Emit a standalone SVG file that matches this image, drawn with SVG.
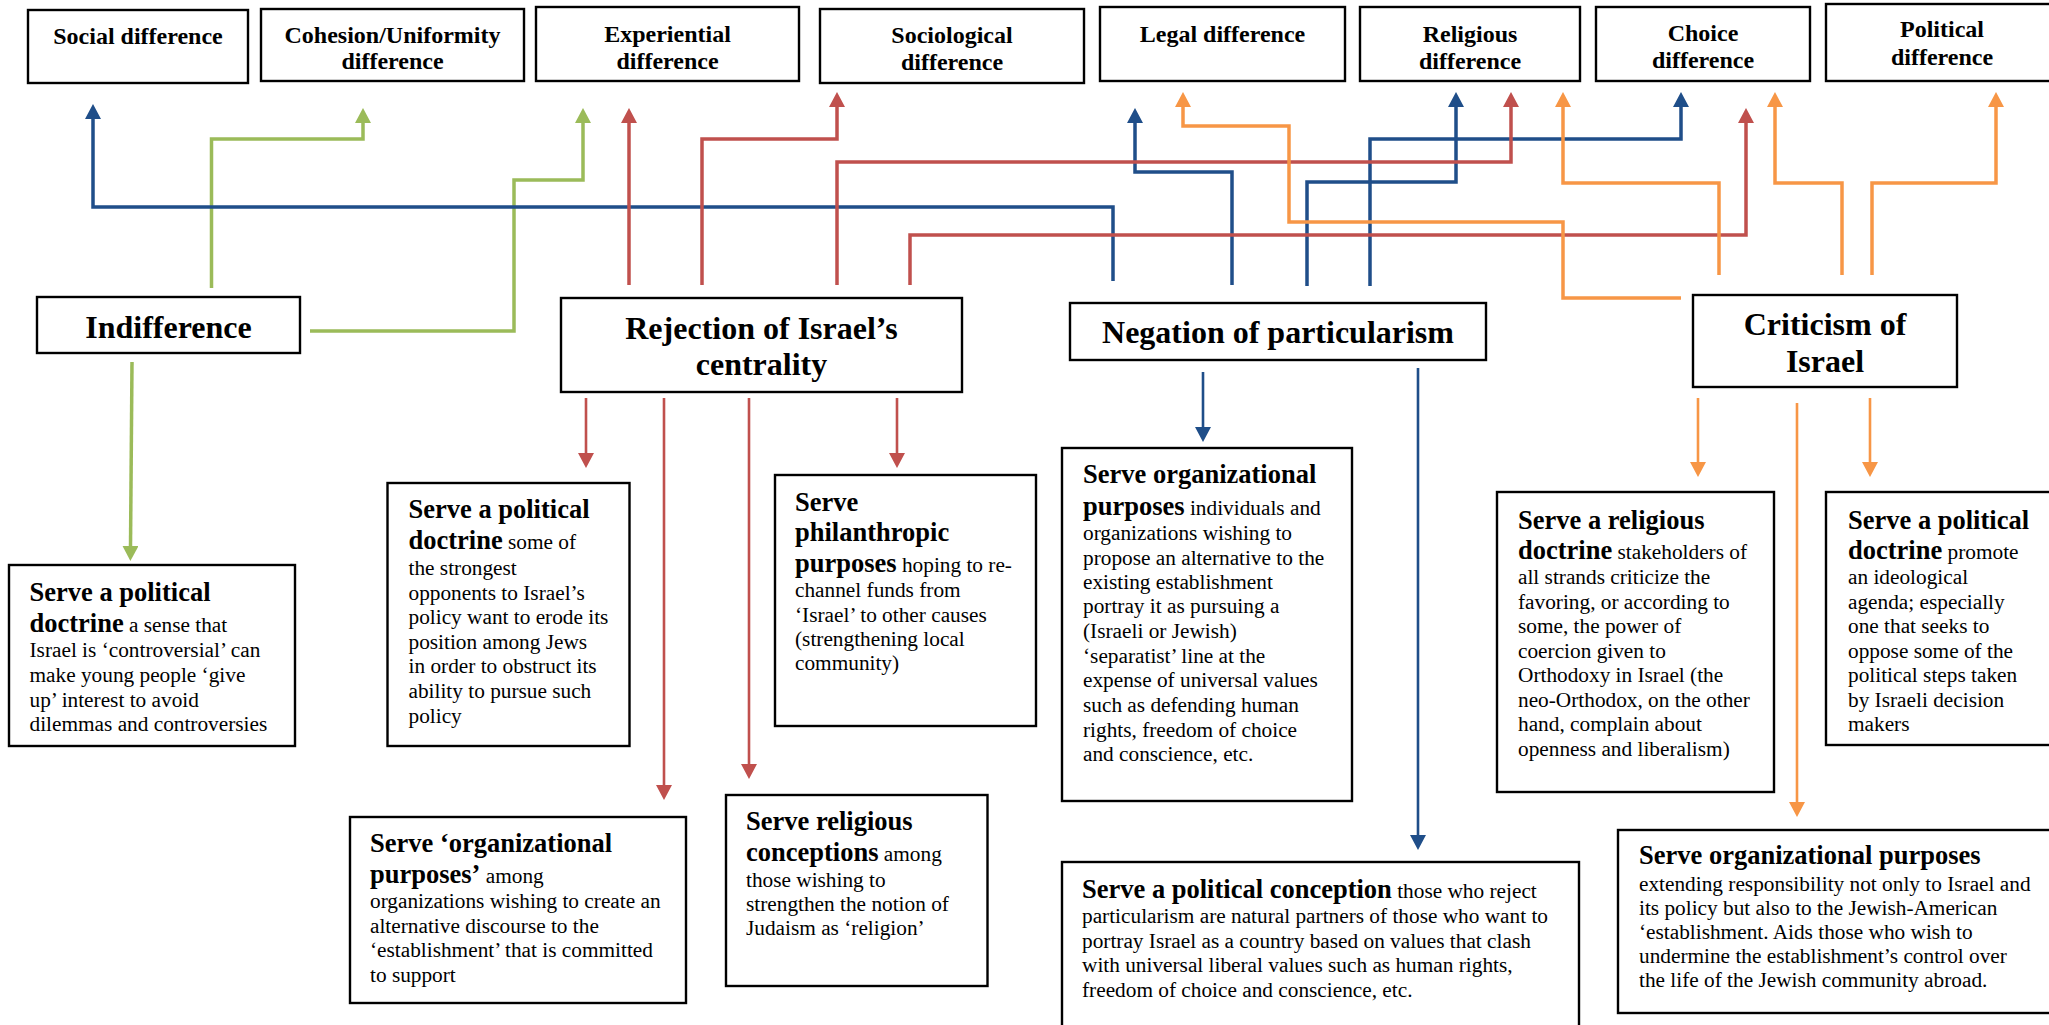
<svg xmlns="http://www.w3.org/2000/svg" width="2049" height="1025" viewBox="0 0 2049 1025">
<style>
.box{fill:#fff;stroke:#000;stroke-width:2.4}
text{font-family:'Liberation Serif','Times New Roman',Times,'DejaVu Serif',serif;fill:#000}
.t{font-weight:bold;font-size:24px;text-anchor:middle}
.m{font-weight:bold;font-size:32px;text-anchor:middle}
.r{font-size:21.3px}
.b{font-weight:bold;font-size:26.5px}
.c{fill:none;stroke-linejoin:miter;stroke-linecap:butt}
.g{stroke:#9BBB59}
.bl{stroke:#1F4E89}
.rd{stroke:#C0504D}
.o{stroke:#F79646}
.w1{stroke-width:3.5}
.w2{stroke-width:2.6}
</style>
<defs>
<marker id="ag" markerUnits="userSpaceOnUse" markerWidth="16" markerHeight="16" viewBox="0 0 16 16" refX="1" refY="8" orient="auto"><path d="M0,0 L15,8 L0,16 z" fill="#9BBB59"/></marker>
<marker id="ab" markerUnits="userSpaceOnUse" markerWidth="16" markerHeight="16" viewBox="0 0 16 16" refX="1" refY="8" orient="auto"><path d="M0,0 L15,8 L0,16 z" fill="#1F4E89"/></marker>
<marker id="ar" markerUnits="userSpaceOnUse" markerWidth="16" markerHeight="16" viewBox="0 0 16 16" refX="1" refY="8" orient="auto"><path d="M0,0 L15,8 L0,16 z" fill="#C0504D"/></marker>
<marker id="ao" markerUnits="userSpaceOnUse" markerWidth="16" markerHeight="16" viewBox="0 0 16 16" refX="1" refY="8" orient="auto"><path d="M0,0 L15,8 L0,16 z" fill="#F79646"/></marker>
</defs>
<rect x="0" y="0" width="2049" height="1025" fill="#fff"/>

<g id="connectors">
<path class="c g w1" d="M211.5 288 V139 H363 V122" marker-end="url(#ag)"/>
<path class="c g w1" d="M310 331 H514 V180 H583 V122" marker-end="url(#ag)"/>
<path class="c g w1" d="M132 362 L130.5 547" marker-end="url(#ag)"/>

<path class="c bl w1" d="M1113 281 V207 H93 V118" marker-end="url(#ab)"/>
<path class="c bl w1" d="M1232 285 V172 H1135 V122" marker-end="url(#ab)"/>
<path class="c bl w1" d="M1307 286 V182 H1456 V106" marker-end="url(#ab)"/>
<path class="c bl w1" d="M1370 286 V139 H1681 V106" marker-end="url(#ab)"/>
<path class="c bl w2" d="M1203 372 V428" marker-end="url(#ab)"/>
<path class="c bl w2" d="M1418 368 V836" marker-end="url(#ab)"/>

<path class="c rd w1" d="M629 285 V122" marker-end="url(#ar)"/>
<path class="c rd w1" d="M702 285 V139 H837 V106" marker-end="url(#ar)"/>
<path class="c rd w1" d="M837 285 V162 H1511 V106" marker-end="url(#ar)"/>
<path class="c rd w1" d="M910 285 V235 H1746 V122" marker-end="url(#ar)"/>
<path class="c rd w2" d="M586 398 V454" marker-end="url(#ar)"/>
<path class="c rd w2" d="M664 398 V786" marker-end="url(#ar)"/>
<path class="c rd w2" d="M749 398 V765" marker-end="url(#ar)"/>
<path class="c rd w2" d="M897 398 V454" marker-end="url(#ar)"/>

<path class="c o w1" d="M1681 298 H1563 V222 H1289 V126 H1183 V106" marker-end="url(#ao)"/>
<path class="c o w1" d="M1719 275 V183 H1563 V106" marker-end="url(#ao)"/>
<path class="c o w1" d="M1842 275 V183 H1775 V106" marker-end="url(#ao)"/>
<path class="c o w1" d="M1872 275 V183 H1996 V106" marker-end="url(#ao)"/>
<path class="c o w2" d="M1698 398 V463" marker-end="url(#ao)"/>
<path class="c o w2" d="M1797 403 V803" marker-end="url(#ao)"/>
<path class="c o w2" d="M1870 398 V463" marker-end="url(#ao)"/>
</g>

<g id="social-difference"><rect class="box" x="28" y="10" width="220" height="73"/><text class="t" x="138" y="44">Social difference</text></g>
<g id="cohesion-difference"><rect class="box" x="261" y="9" width="263" height="72"/><text class="t" x="392.5" y="43">Cohesion/Uniformity</text><text class="t" x="392.5" y="69">difference</text></g>
<g id="experiential-difference"><rect class="box" x="536" y="7" width="263" height="74"/><text class="t" x="667.5" y="42">Experiential</text><text class="t" x="667.5" y="69">difference</text></g>
<g id="sociological-difference"><rect class="box" x="820" y="9" width="264" height="74"/><text class="t" x="952" y="43">Sociological</text><text class="t" x="952" y="70">difference</text></g>
<g id="legal-difference"><rect class="box" x="1100" y="7" width="245" height="74"/><text class="t" x="1222.5" y="42">Legal difference</text></g>
<g id="religious-difference"><rect class="box" x="1360" y="7" width="220" height="74"/><text class="t" x="1470" y="42">Religious</text><text class="t" x="1470" y="69">difference</text></g>
<g id="choice-difference"><rect class="box" x="1596" y="7" width="214" height="74"/><text class="t" x="1703" y="41">Choice</text><text class="t" x="1703" y="68">difference</text></g>
<g id="political-difference"><rect class="box" x="1826" y="4" width="232" height="77"/><text class="t" x="1942" y="37">Political</text><text class="t" x="1942" y="65">difference</text></g>

<g id="indifference"><rect class="box" x="37" y="297" width="263" height="56"/><text class="m" x="168.5" y="338">Indifference</text></g>
<g id="rejection"><rect class="box" x="561" y="298" width="401" height="94"/><text class="m" x="761.5" y="339">Rejection of Israel’s</text><text class="m" x="761.5" y="375">centrality</text></g>
<g id="negation"><rect class="box" x="1070" y="303" width="416" height="57"/><text class="m" x="1278" y="343">Negation of particularism</text></g>
<g id="criticism"><rect class="box" x="1693" y="295" width="264" height="92"/><text class="m" x="1825" y="335">Criticism of</text><text class="m" x="1825" y="372">Israel</text></g>

<g id="ind-political-doctrine"><rect class="box" x="9" y="565" width="286" height="181"/>
<text class="r" x="29.5" y="601"><tspan class="b">Serve a political</tspan></text>
<text class="r" x="29.5" y="632"><tspan class="b">doctrine</tspan> a sense that</text>
<text class="r" x="29.5" y="657">Israel is ‘controversial’ can</text>
<text class="r" x="29.5" y="682">make young people ‘give</text>
<text class="r" x="29.5" y="706.5">up’ interest to avoid</text>
<text class="r" x="29.5" y="731">dilemmas and controversies</text>
</g>

<g id="rej-political-doctrine"><rect class="box" x="387.5" y="483" width="242" height="263"/>
<text class="r" x="408.5" y="518"><tspan class="b">Serve a political</tspan></text>
<text class="r" x="408.5" y="549"><tspan class="b">doctrine</tspan> some of</text>
<text class="r" x="408.5" y="575">the strongest</text>
<text class="r" x="408.5" y="599.6">opponents to Israel’s</text>
<text class="r" x="408.5" y="624.2">policy want to erode its</text>
<text class="r" x="408.5" y="648.8">position among Jews</text>
<text class="r" x="408.5" y="673.4">in order to obstruct its</text>
<text class="r" x="408.5" y="698">ability to pursue such</text>
<text class="r" x="408.5" y="722.6">policy</text>
</g>

<g id="rej-philanthropic"><rect class="box" x="775" y="475" width="261" height="251"/>
<text class="r" x="795" y="511"><tspan class="b">Serve</tspan></text>
<text class="r" x="795" y="541"><tspan class="b">philanthropic</tspan></text>
<text class="r" x="795" y="572"><tspan class="b">purposes</tspan> hoping to re-</text>
<text class="r" x="795" y="597">channel funds from</text>
<text class="r" x="795" y="622">‘Israel’ to other causes</text>
<text class="r" x="795" y="646">(strengthening local</text>
<text class="r" x="795" y="670">community)</text>
</g>

<g id="rej-organizational"><rect class="box" x="350" y="817" width="336" height="186"/>
<text class="r" x="370" y="852"><tspan class="b">Serve ‘organizational</tspan></text>
<text class="r" x="370" y="883"><tspan class="b">purposes’</tspan> among</text>
<text class="r" x="370" y="908">organizations wishing to create an</text>
<text class="r" x="370" y="933">alternative discourse to the</text>
<text class="r" x="370" y="957">‘establishment’ that is committed</text>
<text class="r" x="370" y="982">to support</text>
</g>

<g id="rej-religious"><rect class="box" x="726" y="795" width="261.5" height="191"/>
<text class="r" x="746" y="830"><tspan class="b">Serve religious</tspan></text>
<text class="r" x="746" y="861"><tspan class="b">conceptions</tspan> among</text>
<text class="r" x="746" y="887">those wishing to</text>
<text class="r" x="746" y="911">strengthen the notion of</text>
<text class="r" x="746" y="935">Judaism as ‘religion’</text>
</g>

<g id="neg-organizational"><rect class="box" x="1062" y="448" width="290" height="353"/>
<text class="r" x="1083" y="483"><tspan class="b">Serve organizational</tspan></text>
<text class="r" x="1083" y="515"><tspan class="b">purposes</tspan> individuals and</text>
<text class="r" x="1083" y="540">organizations wishing to</text>
<text class="r" x="1083" y="565">propose an alternative to the</text>
<text class="r" x="1083" y="589">existing establishment</text>
<text class="r" x="1083" y="613">portray it as pursuing a</text>
<text class="r" x="1083" y="638">(Israeli or Jewish)</text>
<text class="r" x="1083" y="663">‘separatist’ line at the</text>
<text class="r" x="1083" y="687">expense of universal values</text>
<text class="r" x="1083" y="712">such as defending human</text>
<text class="r" x="1083" y="737">rights, freedom of choice</text>
<text class="r" x="1083" y="761">and conscience, etc.</text>
</g>

<g id="neg-political-conception"><rect class="box" x="1062" y="862" width="517" height="180"/>
<text class="r" x="1082" y="898"><tspan class="b">Serve a political conception</tspan> those who reject</text>
<text class="r" x="1082" y="923">particularism are natural partners of those who want to</text>
<text class="r" x="1082" y="948">portray Israel as a country based on values that clash</text>
<text class="r" x="1082" y="972">with universal liberal values such as human rights,</text>
<text class="r" x="1082" y="997">freedom of choice and conscience, etc.</text>
</g>

<g id="crit-religious-doctrine"><rect class="box" x="1497" y="492" width="277" height="300"/>
<text class="r" x="1518" y="529"><tspan class="b">Serve a religious</tspan></text>
<text class="r" x="1518" y="559"><tspan class="b">doctrine</tspan> stakeholders of</text>
<text class="r" x="1518" y="584">all strands criticize the</text>
<text class="r" x="1518" y="608.5">favoring, or according to</text>
<text class="r" x="1518" y="633">some, the power of</text>
<text class="r" x="1518" y="657.5">coercion given to</text>
<text class="r" x="1518" y="682">Orthodoxy in Israel (the</text>
<text class="r" x="1518" y="706.5">neo-Orthodox, on the other</text>
<text class="r" x="1518" y="731">hand, complain about</text>
<text class="r" x="1518" y="756">openness and liberalism)</text>
</g>

<g id="crit-political-doctrine"><rect class="box" x="1826" y="492" width="234" height="253"/>
<text class="r" x="1848" y="529"><tspan class="b">Serve a political</tspan></text>
<text class="r" x="1848" y="559"><tspan class="b">doctrine</tspan> promote</text>
<text class="r" x="1848" y="584">an ideological</text>
<text class="r" x="1848" y="608.5">agenda; especially</text>
<text class="r" x="1848" y="633">one that seeks to</text>
<text class="r" x="1848" y="657.5">oppose some of the</text>
<text class="r" x="1848" y="682">political steps taken</text>
<text class="r" x="1848" y="706.5">by Israeli decision</text>
<text class="r" x="1848" y="731">makers</text>
</g>

<g id="crit-organizational"><rect class="box" x="1618" y="830" width="442" height="183"/>
<text class="r" x="1639" y="864"><tspan class="b">Serve organizational purposes</tspan></text>
<text class="r" x="1639" y="891">extending responsibility not only to Israel and</text>
<text class="r" x="1639" y="914.5">its policy but also to the Jewish-American</text>
<text class="r" x="1639" y="938.5">‘establishment. Aids those who wish to</text>
<text class="r" x="1639" y="963">undermine the establishment’s control over</text>
<text class="r" x="1639" y="987">the life of the Jewish community abroad.</text>
</g>
</svg>
